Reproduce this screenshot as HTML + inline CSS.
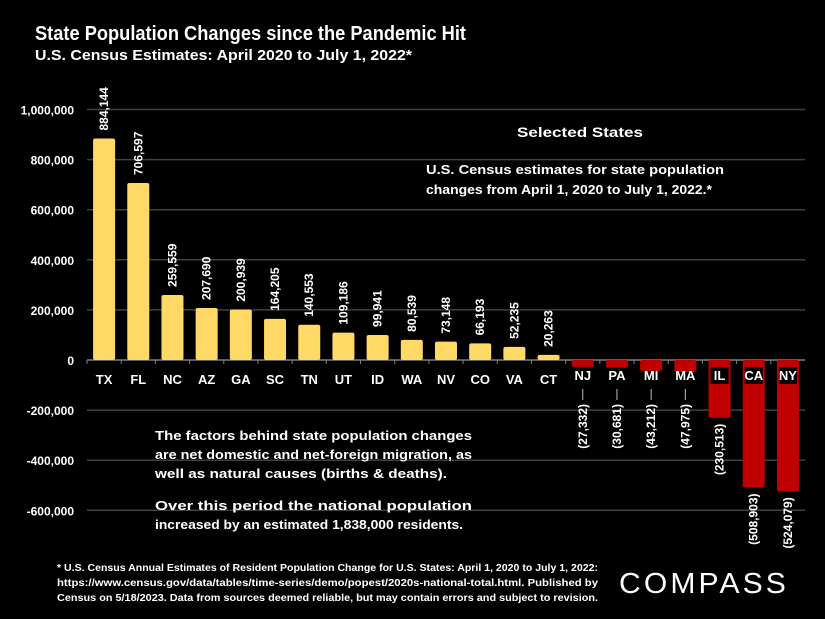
<!DOCTYPE html>
<html><head><meta charset="utf-8"><style>
html,body{margin:0;padding:0;background:#000;}
svg{display:block;font-family:"Liberation Sans",sans-serif;}
</style></head><body>
<svg id="c" width="825" height="619" viewBox="0 0 825 619">
<rect width="825" height="619" fill="#000"/>
<text x="35" y="40" fill="#fff" font-size="20" font-weight="bold" textLength="431" lengthAdjust="spacingAndGlyphs">State Population Changes since the Pandemic Hit</text>
<text x="35" y="60" fill="#fff" font-size="15" font-weight="bold" textLength="377" lengthAdjust="spacingAndGlyphs">U.S. Census Estimates: April 2020 to July 1, 2022*</text>
<g id="grid"></g><g id="bars"></g>
<text x="580" y="137" fill="#fff" font-size="14" font-weight="bold" text-anchor="middle" textLength="126" lengthAdjust="spacingAndGlyphs">Selected States</text>
<text x="426" y="174" fill="#fff" font-size="13" font-weight="bold" textLength="298" lengthAdjust="spacingAndGlyphs">U.S. Census estimates for state population</text>
<text x="426" y="194" fill="#fff" font-size="13" font-weight="bold" textLength="286" lengthAdjust="spacingAndGlyphs">changes from April 1, 2020 to July 1, 2022.*</text>
<g fill="#fff" font-size="13" font-weight="bold">
<text x="155" y="440" textLength="317" lengthAdjust="spacingAndGlyphs">The factors behind state population changes</text>
<text x="155" y="459" textLength="317" lengthAdjust="spacingAndGlyphs">are net domestic and net-foreign migration, as</text>
<text x="155" y="478" textLength="292" lengthAdjust="spacingAndGlyphs">well as natural causes (births &amp; deaths).</text>
<text x="155" y="510" textLength="317" lengthAdjust="spacingAndGlyphs">Over this period the national population</text>
<text x="155" y="529" textLength="308" lengthAdjust="spacingAndGlyphs">increased by an estimated 1,838,000 residents.</text>
</g>
<g fill="#fff" font-size="10" font-weight="bold">
<text x="57" y="571" textLength="541" lengthAdjust="spacingAndGlyphs">* U.S. Census Annual Estimates of Resident Population Change for U.S. States: April 1, 2020 to July 1, 2022:</text>
<text x="57" y="586" textLength="541" lengthAdjust="spacingAndGlyphs">https://www.census.gov/data/tables/time-series/demo/popest/2020s-national-total.html.   Published   by</text>
<text x="57" y="601" textLength="541" lengthAdjust="spacingAndGlyphs">Census on 5/18/2023. Data from sources deemed reliable, but may contain errors and subject to revision.</text>
</g>
<text x="619" y="593" fill="#fff" font-size="29" textLength="170" lengthAdjust="spacingAndGlyphs" letter-spacing="3">COMPASS</text>
</svg>
<script>
const categories=["TX","FL","NC","AZ","GA","SC","TN","UT","ID","WA","NV","CO","VA","CT","NJ","PA","MI","MA","IL","CA","NY"];
const values=[884144,706597,259559,207690,200939,164205,140553,109186,99941,80539,73148,66193,52235,20263,-27332,-30681,-43212,-47975,-230513,-508903,-524079];
const yTicks=[1000000,800000,600000,400000,200000,0,-200000,-400000,-600000];
const yTickLabels=["1,000,000","800,000","600,000","400,000","200,000","0","-200,000","-400,000","-600,000"];
const NS="http://www.w3.org/2000/svg";
const x0=87,x1=805,band=(x1-x0)/categories.length;
const y=v=>360-v*250.5/1000000;
const xc=i=>x0+band*(i+0.5);
function mk(t,a,p){const e=document.createElementNS(NS,t);for(const k in a)e.setAttribute(k,a[k]);p.appendChild(e);return e;}
const grid=document.getElementById('grid'),bars=document.getElementById('bars');
yTicks.forEach((v,i)=>{
 if(v!==0){const g=mk('line',{x1:x0,x2:x1,y1:y(v),y2:y(v),stroke:'#404040','stroke-width':1.5},grid);
 
 }
 const t=mk('text',{x:74,y:y(v)+5,fill:'#fff','font-size':12,'font-weight':'bold','text-anchor':'end'},grid);
 t.textContent=yTickLabels[i];
 
 
});
const ax=mk('line',{x1:x0,x2:x1,y1:y(0),y2:y(0),stroke:'#808080','stroke-width':1.5},grid);


const fmt=v=>Math.abs(v).toLocaleString('en-US');
values.forEach((v,i)=>{
 const cx=xc(i),w=22,top=Math.min(y(v),y(0)),h=Math.abs(y(v)-y(0));
 const r=mk('rect',{x:cx-w/2,y:top,width:w,height:h,rx:2,fill:v>=0?'#FFD966':'#C00000'},bars);
 
 
 const tk=mk('line',{x1:x0+band*i,x2:x0+band*i,y1:y(0),y2:y(0)+4,stroke:'#808080'},bars);
 
 
 const ly=v>=0?384:380;
 if(v<0&&h>20){const bg=mk('rect',{x:cx-9,y:ly-13,width:18,height:17,fill:'#000'},bars);
  
  }
 const c=mk('text',{x:cx,y:ly,fill:'#fff','font-size':13,'font-weight':'bold','text-anchor':'middle'},bars);
 c.textContent=categories[i];
 
 
 let lt,anchor;
 if(v>=0){lt=fmt(v);anchor='start';
  const ty=y(v)-8;
  const t=mk('text',{x:0,y:0,fill:'#fff','font-size':12,'font-weight':'bold','text-anchor':anchor,transform:`translate(${cx+4},${ty}) rotate(-90)`},bars);
  t.textContent=lt;
  
  
 } else {
  lt='('+fmt(v)+')';
  let ty;
  if(h>40){ty=y(v)+6;}else{ty=404;
   const ld=mk('line',{x1:cx,x2:cx,y1:389,y2:400,stroke:'#bbb'},bars);
   
   }
  const t=mk('text',{x:0,y:0,fill:'#fff','font-size':12,'font-weight':'bold','text-anchor':'end',transform:`translate(${cx+4},${ty}) rotate(-90)`},bars);
  t.textContent=lt;
  
  
 }
});
</script>
</body></html>
